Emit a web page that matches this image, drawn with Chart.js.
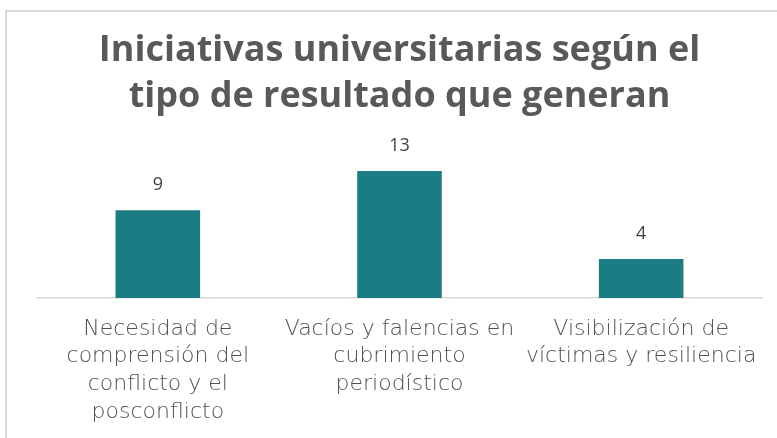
<!DOCTYPE html>
<html>
<head>
<meta charset="utf-8">
<script src="https://cdn.jsdelivr.net/npm/chart.js@4.4.0/dist/chart.umd.min.js"></script>
<style>
    html, body { margin: 0; padding: 0; background: #fff; overflow: hidden; }
    .frame { position: absolute; left: 5px; top: 10px; width: 800px; height: 460px; border: 2px solid #d9d9d9; box-sizing: border-box; }
    .wrap { position: absolute; left: 0; top: 0; width: 777px; height: 438px; }
</style>
</head>
<body>
<div class="frame"></div>
<div class="wrap"><canvas id="resultChart" width="777" height="438"></canvas></div>
<script>
var categories = [
    ['Necesidad de', 'comprensión del', 'conflicto y el', 'posconflicto'],
    ['Vacíos y falencias en', 'cubrimiento', 'periodístico'],
    ['Visibilización de', 'víctimas y resiliencia']
];
var iniciativas = [9, 13, 4];
var titleLines = ['Iniciativas universitarias según el', 'tipo de resultado que generan'];

// etiquetas de valor encima de cada barra
var valueLabels = {
    id: 'valueLabels',
    afterDatasetsDraw: function (chart) {
        var ctx = chart.ctx;
        var meta = chart.getDatasetMeta(0);
        ctx.save();
        ctx.font = '18px "Open Sans"';
        ctx.fillStyle = '#404040';
        ctx.textAlign = 'center';
        ctx.textBaseline = 'middle';
        meta.data.forEach(function (bar, i) {
            ctx.fillText(chart.data.datasets[0].data[i], bar.x, bar.y - 25);
        });
        ctx.restore();
    }
};

var ctx = document.getElementById('resultChart').getContext('2d');
var resultChart = new Chart(ctx, {
    type: 'bar',
    data: {
        labels: categories,
        datasets: [{
            data: iniciativas,
            backgroundColor: '#1b7d83',
            borderWidth: 0,
            barPercentage: 0.35,
            categoryPercentage: 1
        }]
    },
    options: {
        responsive: false,
        animation: false,
        layout: {
            padding: { left: 37, right: 15, top: 0, bottom: 0 }
        },
        scales: {
            y: {
                display: false,
                beginAtZero: true,
                min: 0,
                max: 15
            },
            x: {
                afterFit: function (scale) { scale.height = 140; },
                grid: { display: false, drawTicks: false },
                border: { display: true, color: '#d9d9d9', width: 1.5 },
                ticks: {
                    padding: 17,
                    color: '#505050',
                    maxRotation: 0,
                    autoSkip: false,
                    font: { family: 'DejaVu Sans', size: 22, weight: '200', lineHeight: 1.26 }
                }
            }
        },
        plugins: {
            legend: { display: false },
            tooltip: { enabled: false },
            title: {
                display: true,
                text: titleLines,
                color: '#595959',
                font: { family: 'Open Sans', size: 36, weight: 'bold', lineHeight: 1.3 },
                padding: { top: 27, bottom: 31 }
            }
        }
    },
    plugins: [valueLabels]
});
</script>
</body>
</html>
